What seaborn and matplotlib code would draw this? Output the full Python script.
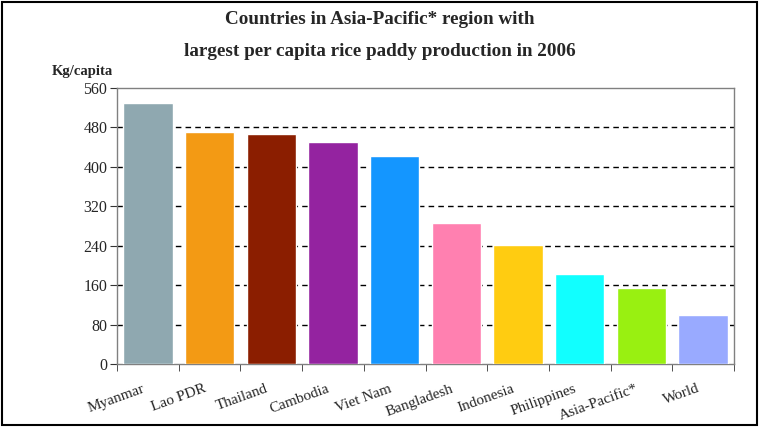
import matplotlib
matplotlib.use('Agg')
import matplotlib.pyplot as plt
import matplotlib.transforms as mtransforms
import seaborn as sns
from matplotlib.patches import Rectangle

# Data (kg of rice paddy per capita, 2006)
countries = ['Myanmar', 'Lao PDR', 'Thailand', 'Cambodia', 'Viet Nam',
             'Bangladesh', 'Indonesia', 'Philippines', 'Asia-Pacific*', 'World']
kg_per_capita = [530, 470, 467, 451, 423, 287, 241, 183, 155, 99]
bar_colors = ['#8fa8b0', '#f39a14', '#8b1e00', '#9423a0', '#1496ff',
              '#ff80b0', '#ffcc11', '#11ffff', '#99f011', '#99aaff']
y_ticks = [0, 80, 160, 240, 320, 400, 480, 560]

sns.set_style('white')
plt.rcParams['font.family'] = ['Liberation Serif', 'DejaVu Serif']

fig = plt.figure(figsize=(7.59, 4.28), dpi=100)
ax = fig.add_axes([117 / 759, 64 / 428, 617 / 759, 276 / 428])

sns.barplot(x=countries, y=kg_per_capita, hue=countries, palette=bar_colors,
            legend=False, width=0.8, saturation=1, ax=ax, zorder=3)

ax.set_ylim(0, 560)
ax.set_xlim(-0.5, len(countries) - 0.5)
ax.set_yticks(y_ticks)
ax.set_yticklabels([str(t) for t in y_ticks], fontsize=11.5)

# dashed gridlines behind the bars
ax.yaxis.grid(True, linestyle=(0, (4, 3)), color='black', linewidth=1, zorder=0)
ax.set_axisbelow(True)
gl = ax.yaxis.get_gridlines()
gl[0].set_visible(False)
gl[-1].set_visible(False)

# x ticks at the category boundaries, Excel style
ax.set_xticks([i - 0.5 for i in range(len(countries) + 1)], minor=True)
ax.tick_params(axis='x', which='minor', length=5, direction='out',
               color='#333333', bottom=True)
ax.tick_params(axis='x', which='major', length=0, pad=13)
ax.tick_params(axis='y', length=5, direction='out', color='#333333', left=True,
               pad=2)
ax.set_xticks(range(len(countries)))
ax.set_xticklabels(countries, rotation=20, ha='right', rotation_mode='anchor',
                   fontsize=11)
shift = mtransforms.ScaledTranslation(-6 / 100, 0, fig.dpi_scale_trans)
for lbl in ax.get_xticklabels():
    lbl.set_transform(lbl.get_transform() + shift)
ax.set_xlabel('')
ax.set_ylabel('')

for side in ['top', 'right', 'left', 'bottom']:
    ax.spines[side].set_visible(True)
    ax.spines[side].set_color('#808080')
    ax.spines[side].set_linewidth(1)

fig.text(0.5, 1 - 20 / 428, 'Countries in Asia-Pacific* region with',
         ha='center', va='center', fontsize=13.8, fontweight='bold')
fig.text(0.5, 1 - 52 / 428, 'largest per capita rice paddy production in 2006',
         ha='center', va='center', fontsize=13.8, fontweight='bold')
fig.text(82 / 759, 1 - 72 / 428, 'Kg/capita', ha='center', va='center',
         fontsize=10.5, fontweight='bold')

# frame around the whole chart
fig.patches.append(Rectangle((2 / 759, 3 / 428), 755 / 759, 423 / 428,
                             transform=fig.transFigure, fill=False,
                             edgecolor='black', linewidth=1.5))

plt.savefig('out.png', dpi=100)
